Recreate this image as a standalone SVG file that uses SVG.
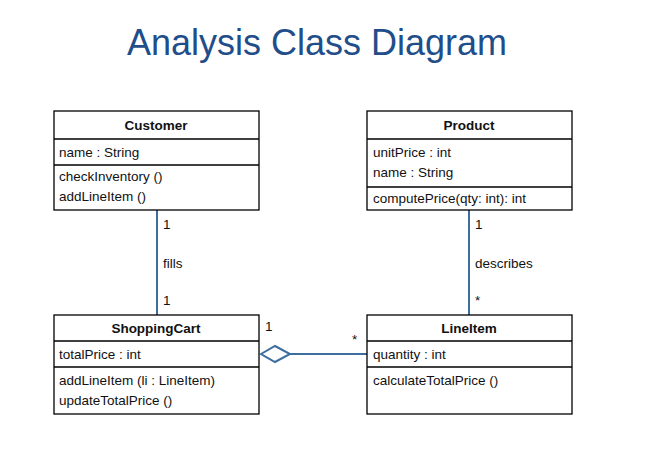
<svg xmlns="http://www.w3.org/2000/svg" width="652" height="452" viewBox="0 0 652 452">
<style>
.box{fill:#fff;stroke:#000;stroke-width:1.3}
.div{stroke:#000;stroke-width:1.3}
.t{font-family:"Liberation Sans",Arial,sans-serif;font-size:13.5px;fill:#111}
.h{font-family:"Liberation Sans",Arial,sans-serif;font-size:13.5px;font-weight:bold;fill:#111;text-anchor:middle}
.c{stroke:#3d6e9e;stroke-width:2;fill:none}
.title{font-family:"Liberation Sans",Arial,sans-serif;font-size:36px;fill:#1f4e8a;text-anchor:middle}
</style>
<rect width="652" height="452" fill="#fff"/>
<text class="title" x="317" y="55">Analysis Class Diagram</text>
<g id="connectors">
<line class="c" x1="157" y1="210" x2="157" y2="315"/>
<line class="c" x1="469" y1="210" x2="469" y2="315"/>
<line class="c" x1="290" y1="354" x2="367" y2="354"/>
<polygon class="c" points="261,354 275,346 290,354 275,362" style="fill:#fff"/>
<text class="t" x="163" y="229">1</text>
<text class="t" x="163" y="268">fills</text>
<text class="t" x="163" y="305">1</text>
<text class="t" x="475" y="229">1</text>
<text class="t" x="475" y="268">describes</text>
<text class="t" x="475" y="305">*</text>
<text class="t" x="265" y="331">1</text>
<text class="t" x="352" y="344">*</text>
</g>
<g id="customer">
<rect class="box" x="54" y="111" width="205" height="99"/>
<line class="div" x1="54" y1="139" x2="259" y2="139"/>
<line class="div" x1="54" y1="165" x2="259" y2="165"/>
<text class="h" x="156" y="130">Customer</text>
<text class="t" x="59" y="157">name : String</text>
<text class="t" x="59" y="181">checkInventory ()</text>
<text class="t" x="59" y="201">addLineItem ()</text>
</g>
<g id="product">
<rect class="box" x="367" y="111" width="205" height="99"/>
<line class="div" x1="367" y1="139" x2="572" y2="139"/>
<line class="div" x1="367" y1="187" x2="572" y2="187"/>
<text class="h" x="469" y="130">Product</text>
<text class="t" x="373" y="157">unitPrice : int</text>
<text class="t" x="373" y="177">name : String</text>
<text class="t" x="373" y="203">computePrice(qty: int): int</text>
</g>
<g id="shoppingcart">
<rect class="box" x="54" y="315" width="205" height="99"/>
<line class="div" x1="54" y1="341" x2="259" y2="341"/>
<line class="div" x1="54" y1="367" x2="259" y2="367"/>
<text class="h" x="156" y="333">ShoppingCart</text>
<text class="t" x="59" y="359">totalPrice : int</text>
<text class="t" x="59" y="385">addLineItem (li : LineItem)</text>
<text class="t" x="59" y="405">updateTotalPrice ()</text>
</g>
<g id="lineitem">
<rect class="box" x="367" y="315" width="205" height="99"/>
<line class="div" x1="367" y1="341" x2="572" y2="341"/>
<line class="div" x1="367" y1="367" x2="572" y2="367"/>
<text class="h" x="469" y="333">LineItem</text>
<text class="t" x="373" y="359">quantity : int</text>
<text class="t" x="373" y="385">calculateTotalPrice ()</text>
</g>
</svg>
